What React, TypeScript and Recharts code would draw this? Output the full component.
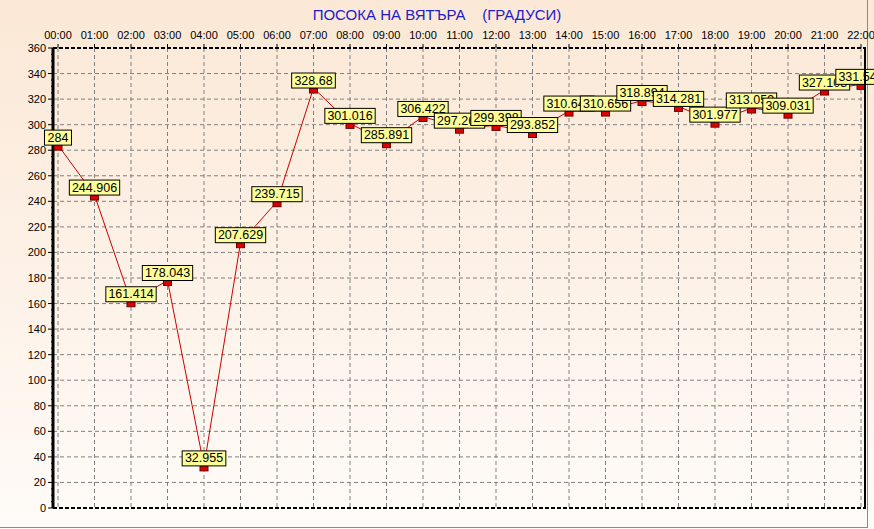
import React from "react";
import {
  CartesianGrid,
  LabelList,
  Line,
  LineChart,
  ReferenceLine,
  XAxis,
  YAxis,
} from "recharts";

const hours = [
  "00:00", "01:00", "02:00", "03:00", "04:00", "05:00", "06:00", "07:00",
  "08:00", "09:00", "10:00", "11:00", "12:00", "13:00", "14:00", "15:00",
  "16:00", "17:00", "18:00", "19:00", "20:00", "21:00", "22:00",
];

const direction = [
  284, 244.906, 161.414, 178.043, 32.955, 207.629, 239.715, 328.68,
  301.016, 285.891, 306.422, 297.268, 299.398, 293.852, 310.647, 310.656,
  318.894, 314.281, 301.977, 313.059, 309.031, 327.103, 331.547,
];

const yMajorTicks = [0, 20, 40, 60, 80, 100, 120, 140, 160, 180, 200, 220, 240, 260, 280, 300, 320, 340, 360];
const yMinorTicks = yMajorTicks.flatMap((v, i) =>
  i === 0 ? [v] : [v - 15, v - 10, v - 5, v]
);

const data = hours.map((time, i) => ({ time, value: direction[i] }));

const FONT = "'Liberation Sans', Arial, sans-serif";

function textWidth(s: string) {
  let w = 0;
  for (const ch of s) w += ch === "." ? 3.33 : 6.67;
  return w;
}

function Marker(props: any) {
  const { cx, cy } = props;
  if (cx == null || cy == null) return null;
  return (
    <rect x={cx - 4} y={cy} width={8} height={5} fill="#dd0000" stroke="#6a0000" strokeWidth={1} />
  );
}

function ValueBox(props: any) {
  const { x, y, value } = props;
  if (x == null || y == null) return null;
  const s = String(value);
  const w = textWidth(s) + 7;
  return (
    <g>
      <rect x={x - w / 2} y={y - 15} width={w} height={15} fill="#ffff99" stroke="#000" strokeWidth={1} />
      <text x={x} y={y - 3.5} textAnchor="middle" fontSize={12.5} fontFamily={FONT} fill="#000">
        {s}
      </text>
    </g>
  );
}

function YTick(props: any) {
  const { x, y, payload } = props;
  const v = payload.value;
  const major = v % 20 === 0;
  return (
    <g>
      <line x1={x - (major ? 5 : 2)} x2={x} y1={y} y2={y} stroke="#000" strokeWidth={1} />
      {major && (
        <text x={x - 7} y={y + 4} textAnchor="end" fontSize={11} fontFamily={FONT} fill="#000">
          {v}
        </text>
      )}
    </g>
  );
}

export default function App() {
  return (
    <div
      style={{
        position: "fixed",
        left: 0,
        top: 0,
        width: 874,
        height: 529,
        background: "linear-gradient(to bottom, #fbe8d6 0%, #fdf2e8 55%, #fffbf8 100%)",
      }}
    >
      <div
        style={{
          position: "absolute",
          left: 0,
          top: 0,
          width: 867,
          height: 527,
          borderRight: "1px solid #8a8a8a",
          borderBottom: "1px solid #8a8a8a",
        }}
      />
      <div
        style={{
          position: "absolute",
          left: 0,
          top: 6,
          width: 874,
          textAlign: "center",
          fontFamily: FONT,
          fontSize: 15,
          color: "#2020c8",
          whiteSpace: "pre",
        }}
      >
        {"ПОСОКА НА ВЯТЪРА    (ГРАДУСИ)"}
      </div>
      <div style={{ position: "absolute", left: 0, top: 0 }}>
        <LineChart width={874} height={529} data={data} margin={{ top: 18, right: 9, bottom: 21, left: 0 }}>
          <CartesianGrid horizontal={false} stroke="#808080" strokeDasharray="4 3" />
          {yMajorTicks
            .filter((v) => v > 0 && v < 360)
            .map((v) => (
              <ReferenceLine key={v} y={v} stroke="#808080" strokeDasharray="4 3" />
            ))}
          <ReferenceLine y={0} stroke="#000" strokeWidth={2} strokeDasharray="4 2" />
          <XAxis
            dataKey="time"
            orientation="top"
            height={30}
            interval={0}
            padding={{ left: 5, right: 4 }}
            tickSize={4}
            tickMargin={5}
            axisLine={{ stroke: "#000", strokeWidth: 2, strokeDasharray: "4 2" }}
            tickLine={{ stroke: "#000" }}
            tick={{ fill: "#000", fontSize: 11, fontFamily: FONT }}
          />
          <YAxis
            domain={[0, 360]}
            ticks={yMinorTicks}
            interval={0}
            width={53}
            tickSize={0}
            tickMargin={0}
            tickLine={false}
            axisLine={{ stroke: "#000", strokeWidth: 3 }}
            tick={<YTick />}
            allowDataOverflow
          />
          <Line
            type="linear"
            dataKey="value"
            stroke="#cc0000"
            strokeWidth={1}
            dot={<Marker />}
            activeDot={false}
            isAnimationActive={false}
          >
            <LabelList dataKey="value" content={<ValueBox />} />
          </Line>
        </LineChart>
      </div>
      {/* solid right frame of the plot area */}
      <div
        style={{
          position: "absolute",
          left: 864,
          top: 47,
          width: 2,
          height: 462,
          background: "#000",
        }}
      />
    </div>
  );
}
